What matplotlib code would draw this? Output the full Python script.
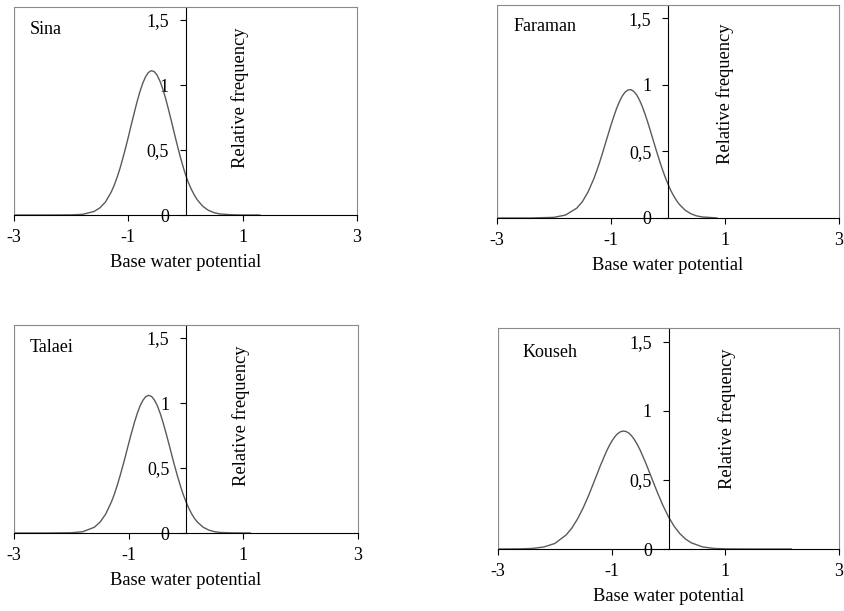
import matplotlib.pyplot as plt

plt.rcParams['font.family'] = ['Liberation Serif', 'DejaVu Serif']

# curves (x = base water potential, y = relative frequency)
sina_x = [-3.0, -2.4, -2.0, -1.8, -1.6, -1.5, -1.4, -1.3, -1.25, -1.2, -1.15, -1.1, -1.05, -1.0,
          -0.95, -0.9, -0.85, -0.8, -0.75, -0.7, -0.65, -0.6, -0.55, -0.5, -0.45, -0.4, -0.35,
          -0.3, -0.25, -0.2, -0.15, -0.1, -0.05, 0.0, 0.05, 0.1, 0.15, 0.2, 0.3, 0.4, 0.5, 0.6,
          0.8, 1.0, 1.3]
sina_y = [0.0, 0.0, 0.001, 0.005, 0.027, 0.054, 0.10, 0.176, 0.226, 0.285, 0.353, 0.43, 0.513,
          0.60, 0.692, 0.78, 0.867, 0.945, 1.011, 1.062, 1.096, 1.11, 1.104, 1.078, 1.033, 0.973,
          0.900, 0.816, 0.728, 0.637, 0.547, 0.462, 0.383, 0.311, 0.250, 0.20, 0.157, 0.12,
          0.068, 0.036, 0.018, 0.008, 0.002, 0.0, 0.0]

faraman_x = [-3.0, -2.4, -2.0, -1.8, -1.6, -1.5, -1.4, -1.3, -1.25, -1.2, -1.15, -1.1, -1.05,
             -1.0, -0.95, -0.9, -0.85, -0.8, -0.75, -0.7, -0.65, -0.6, -0.55, -0.5, -0.45, -0.4,
             -0.35, -0.3, -0.25, -0.2, -0.15, -0.1, -0.05, 0.0, 0.05, 0.1, 0.15, 0.2, 0.3, 0.4,
             0.5, 0.6, 0.8, 0.86]
faraman_y = [0.0, 0.0, 0.005, 0.022, 0.074, 0.124, 0.198, 0.296, 0.355, 0.418, 0.486, 0.557,
             0.628, 0.698, 0.764, 0.825, 0.876, 0.918, 0.947, 0.962, 0.964, 0.951, 0.925, 0.886,
             0.836, 0.777, 0.712, 0.642, 0.571, 0.500, 0.432, 0.367, 0.308, 0.254, 0.206, 0.166,
             0.131, 0.102, 0.059, 0.032, 0.016, 0.008, 0.002, 0.0]

talaei_x = [-3.0, -2.4, -2.0, -1.8, -1.6, -1.5, -1.4, -1.3, -1.25, -1.2, -1.15, -1.1, -1.05,
            -1.0, -0.95, -0.9, -0.85, -0.8, -0.75, -0.7, -0.65, -0.6, -0.55, -0.5, -0.45, -0.4,
            -0.35, -0.3, -0.25, -0.2, -0.15, -0.1, -0.05, 0.0, 0.05, 0.1, 0.15, 0.2, 0.3, 0.4,
            0.5, 0.6, 0.8, 1.12]
talaei_y = [0.0, 0.0, 0.002, 0.010, 0.044, 0.083, 0.146, 0.240, 0.298, 0.366, 0.440, 0.519,
            0.603, 0.688, 0.771, 0.850, 0.920, 0.979, 1.022, 1.050, 1.059, 1.050, 1.022, 0.979,
            0.920, 0.850, 0.771, 0.688, 0.603, 0.519, 0.440, 0.366, 0.298, 0.240, 0.189, 0.146,
            0.111, 0.083, 0.044, 0.022, 0.010, 0.004, 0.001, 0.0]

kouseh_x = [-3.0, -2.6, -2.4, -2.2, -2.0, -1.8, -1.7, -1.6, -1.5, -1.4, -1.3, -1.2, -1.1, -1.05,
            -1.0, -0.95, -0.9, -0.85, -0.8, -0.75, -0.7, -0.65, -0.6, -0.55, -0.5, -0.4, -0.3,
            -0.2, -0.1, 0.0, 0.1, 0.2, 0.3, 0.4, 0.6, 0.8, 1.0, 1.4, 2.16]
kouseh_y = [0.0, 0.001, 0.004, 0.014, 0.040, 0.102, 0.152, 0.218, 0.299, 0.393, 0.497, 0.602,
            0.699, 0.742, 0.779, 0.810, 0.833, 0.848, 0.854, 0.851, 0.840, 0.820, 0.792, 0.757,
            0.717, 0.622, 0.518, 0.414, 0.317, 0.233, 0.164, 0.111, 0.072, 0.045, 0.015, 0.004,
            0.001, 0.0, 0.0]

names = ['Sina', 'Faraman', 'Talaei', 'Kouseh']
xticks = [-3, -1, 1, 3]
xtick_labels = ['-3', '-1', '1', '3']
yticks = [0, 0.5, 1, 1.5]
ytick_labels = ['0', '0,5', '1', '1,5']

XMIN, XMAX = -3, 3
YMIN, YMAX = 0, 1.6
box_color = '#8a8a8a'
curve_color = '#5a5a5a'

fig = plt.figure(figsize=(8.44, 6.11), dpi=100)

# axes rectangles (left, bottom, width, height) in figure fraction
rects = [
    [14 / 844, 396 / 611, 343 / 844, 208 / 611],
    [497 / 844, 393 / 611, 342 / 844, 213 / 611],
    [14 / 844, 78 / 611, 344 / 844, 208 / 611],
    [498 / 844, 62 / 611, 341 / 844, 221 / 611],
]
name_pos = [(0.047, 0.870), (0.047, 0.878), (0.047, 0.870), (0.072, 0.870)]
ylab_pos = [(0.659, 0.562), (0.667, 0.582), (0.660, 0.562), (0.672, 0.590)]
curves = [(sina_x, sina_y), (faraman_x, faraman_y), (talaei_x, talaei_y), (kouseh_x, kouseh_y)]

for i in range(4):
    ax = fig.add_axes(rects[i])
    x, y = curves[i]
    ax.plot(x, y, color=curve_color, lw=1.0)

    ax.set_xlim(XMIN, XMAX)
    ax.set_ylim(YMIN, YMAX)

    # frame: gray box, black axes crossing at 0
    ax.spines['left'].set_position(('data', 0))
    ax.spines['left'].set_color('black')
    ax.spines['bottom'].set_color('black')
    ax.spines['top'].set_color(box_color)
    ax.spines['right'].set_color(box_color)
    for s in ax.spines.values():
        s.set_linewidth(0.8)
    ax.axvline(XMIN, color=box_color, lw=1.6)

    ax.set_xticks(xticks)
    ax.set_xticklabels(xtick_labels)
    ax.set_yticks(yticks)
    ax.set_yticklabels(ytick_labels)
    ax.tick_params(axis='x', direction='out', length=4, width=0.8, pad=6, labelsize=13)
    ax.tick_params(axis='y', direction='out', length=4, width=0.8, pad=8, labelsize=13)

    ax.set_xlabel('Base water potential', fontsize=13.3, labelpad=6)
    ax.text(ylab_pos[i][0], ylab_pos[i][1], 'Relative frequency', rotation=90,
            transform=ax.transAxes, ha='center', va='center', fontsize=13.3)
    ax.text(name_pos[i][0], name_pos[i][1], names[i], transform=ax.transAxes,
            ha='left', va='baseline', fontsize=13)

fig.savefig('out.png', dpi=100)
